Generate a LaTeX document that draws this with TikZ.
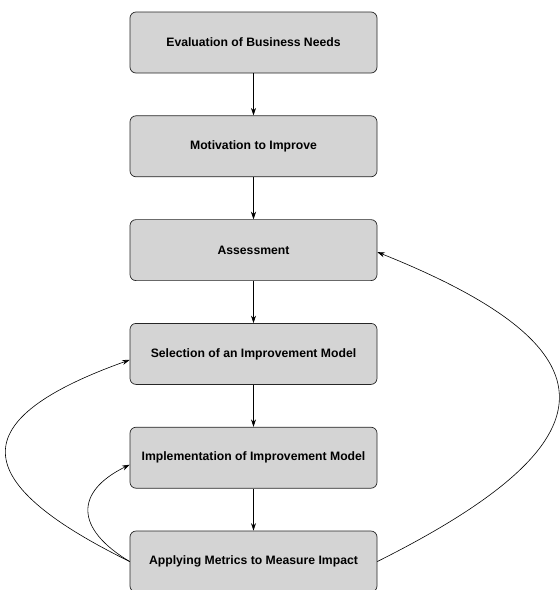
\documentclass[tikz,border=0pt]{standalone}
\usepackage{fontspec}
\setmainfont{Liberation Sans}
\usetikzlibrary{arrows.meta}
\begin{document}
\begin{tikzpicture}[x=1pt,y=-1pt,
 stagebox/.style={draw=black!85, line width=0.7pt, rounded corners=6pt,
   fill={rgb,255:red,212;green,212;blue,212}, minimum width=247pt, minimum height=61pt,
   font=\fontsize{12.2}{14}\selectfont\bfseries, inner sep=0pt},
 flow/.style={-{Stealth[length=7.5pt,width=5pt]}, line width=0.6pt}]
\useasboundingbox (0,0) rectangle (560,590);
\clip (0,0) rectangle (560,590);
\node[stagebox] (e1) at (253.5,42.5) {Evaluation of Business Needs};
\node[stagebox] (e2) at (253.5,146.3) {Motivation to Improve};
\node[stagebox] (e3) at (253.5,250.1) {Assessment};
\node[stagebox] (e4) at (253.5,353.9) {Selection of an Improvement Model};
\node[stagebox] (e5) at (253.5,457.7) {Implementation of Improvement Model};
\node[stagebox] (e6) at (253.5,561.5) {Applying Metrics to Measure Impact};
\draw[flow] (e1) -- (e2);
\draw[flow] (e2) -- (e3);
\draw[flow] (e3) -- (e4);
\draw[flow] (e4) -- (e5);
\draw[flow] (e5) -- (e6);
\draw[flow] (e6.east) .. controls +(242,-121) and +(242,97) .. ([yshift=-2pt]e3.east);
\draw[flow] (e6.west) .. controls +(-165,-81) and +(-165,59) .. ([yshift=-6pt]e4.west);
\draw[flow] (e6.west) .. controls +(-55,-33) and +(-55,27) .. ([yshift=-7pt]e5.west);
\end{tikzpicture}
\end{document}
